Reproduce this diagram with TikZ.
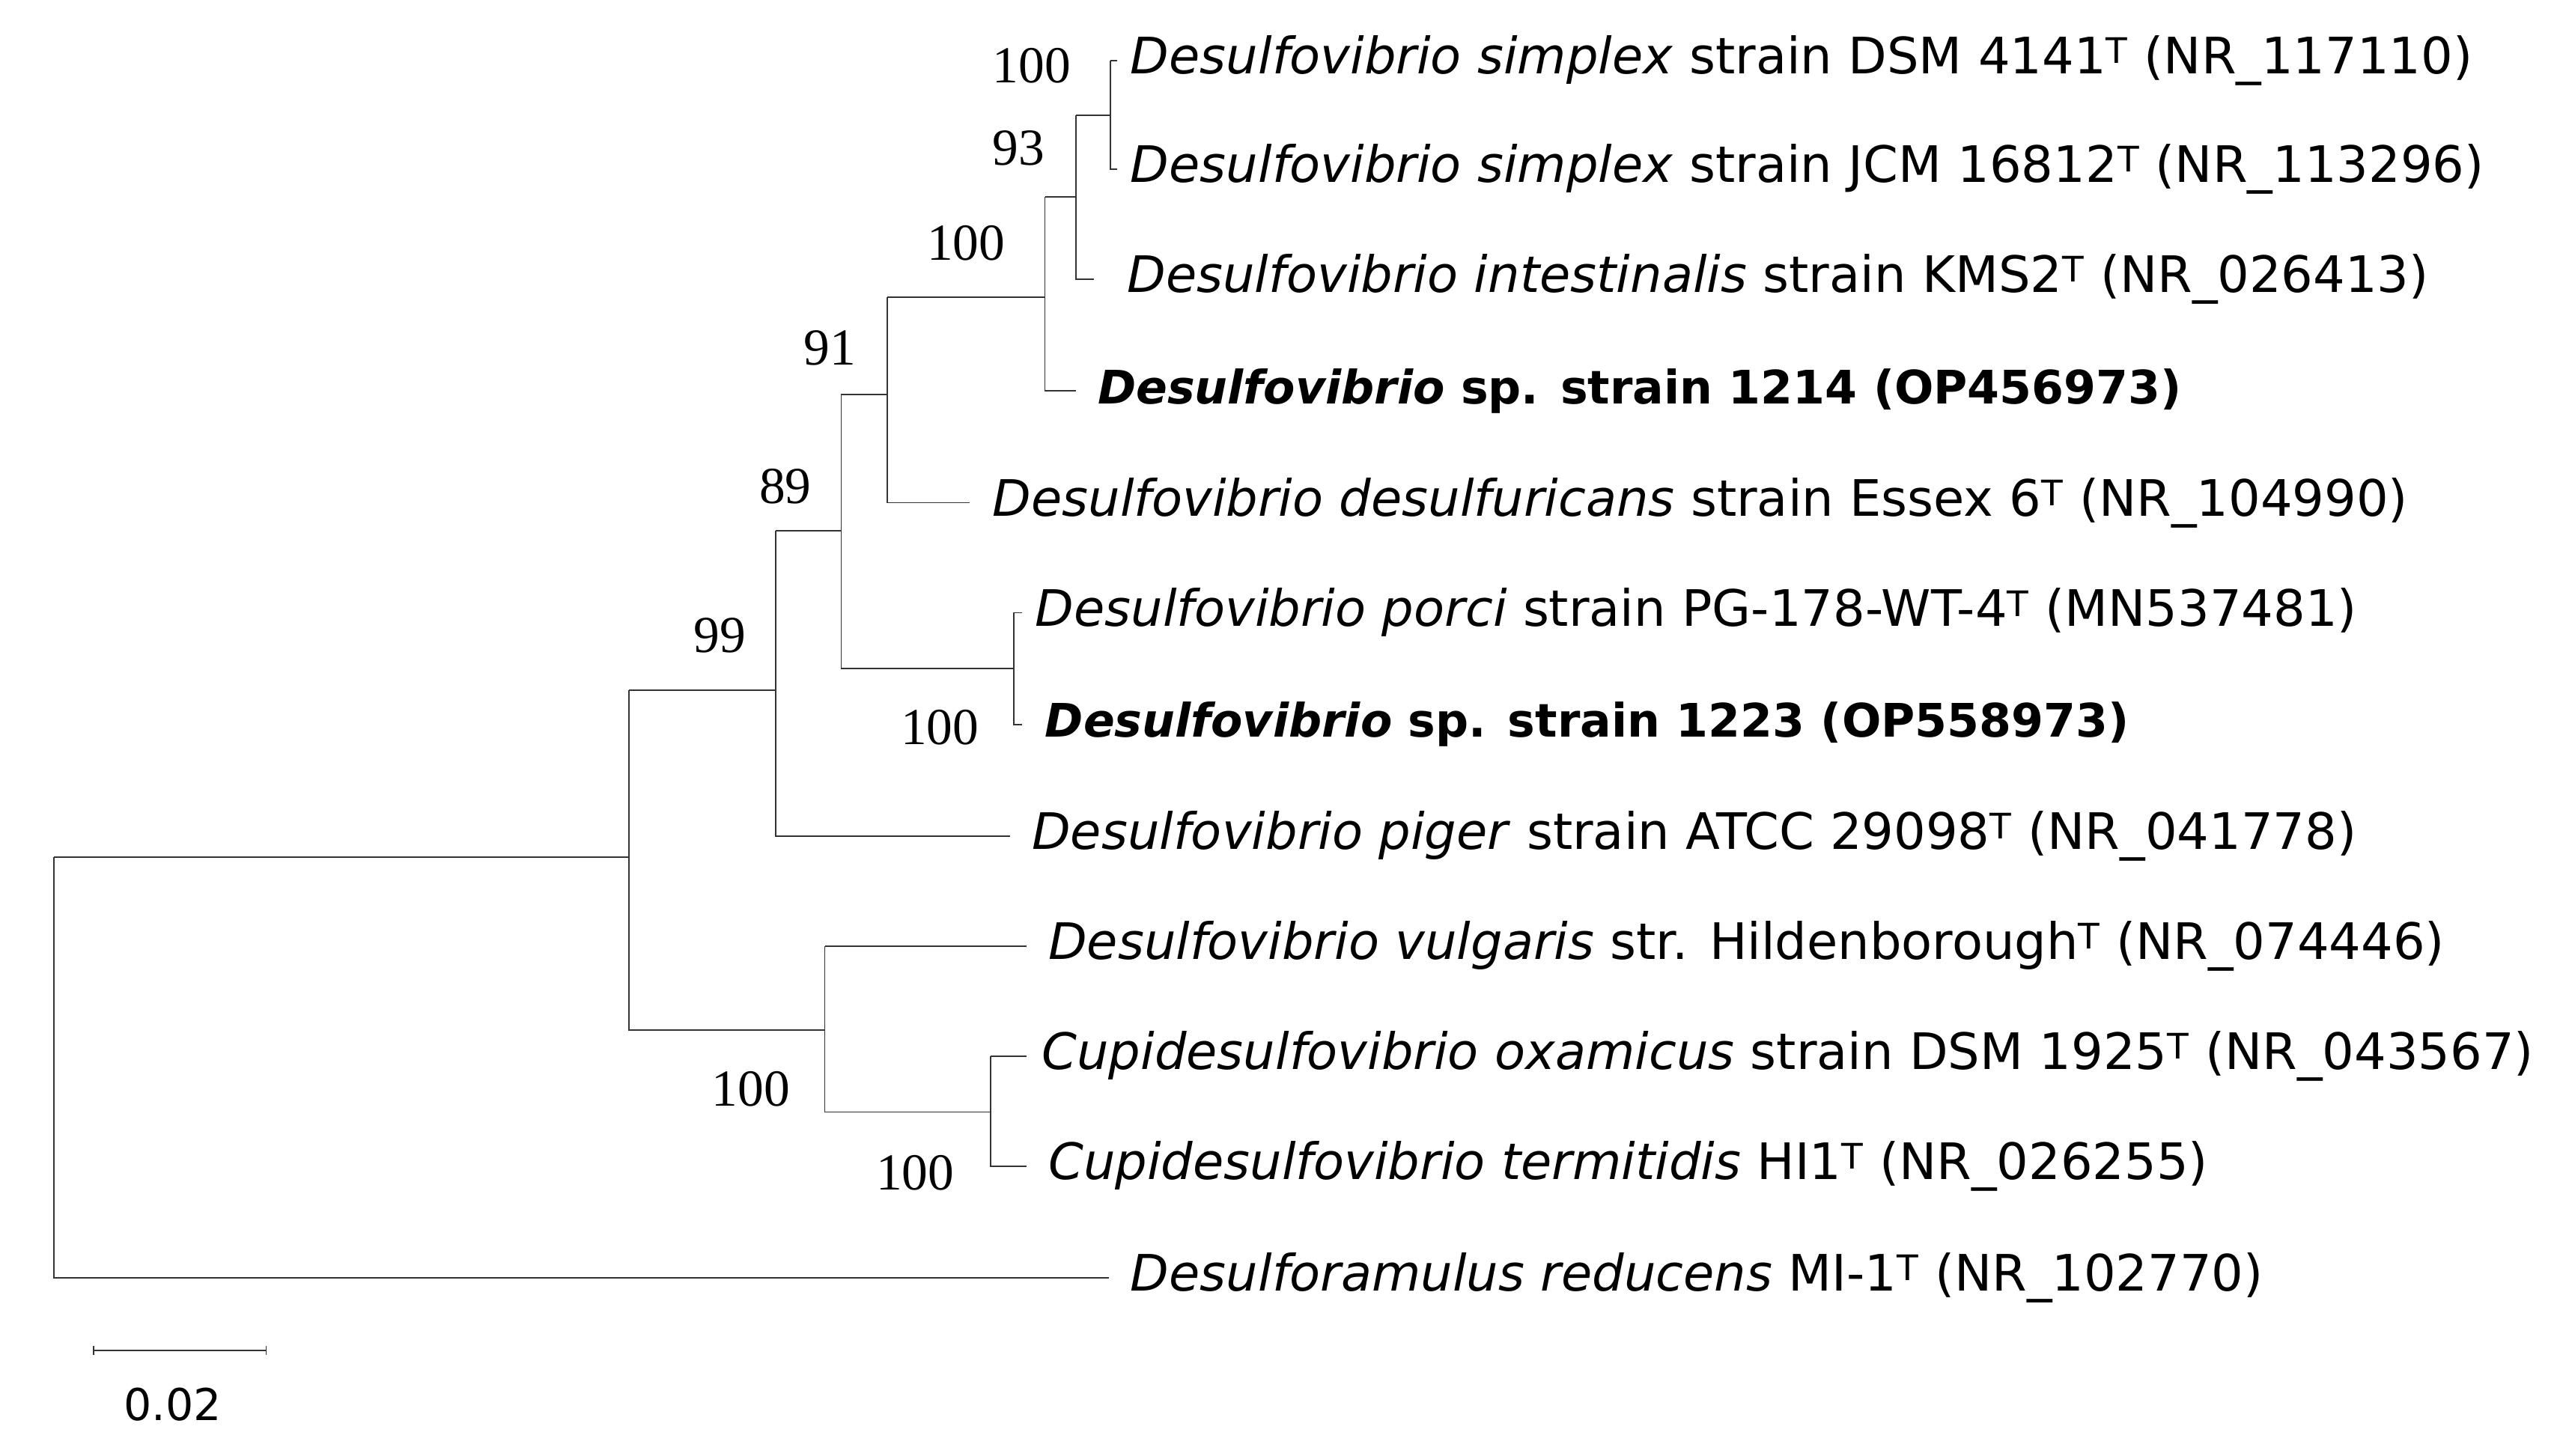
\documentclass[tikz,border=0pt]{standalone}
\usepackage{fontspec}
\setmainfont{DejaVu Sans}
\newfontfamily\bsfont{Liberation Serif}
\begin{document}
\begin{tikzpicture}[x=0.5mm,y=-0.5mm,
  br/.style={line width=1.2pt,black!80},
  lf/.style={anchor=west,inner sep=0pt,font=\fontsize{43.5}{48}\selectfont},
  lfb/.style={anchor=west,inner sep=0pt,font=\fontsize{40}{46}\selectfont\bfseries},
  bs/.style={inner sep=0pt,font=\bsfont\fontsize{45}{50}\selectfont}]
\useasboundingbox (0,0) rectangle (1560,886);
\coordinate (R) at (33,522);
\coordinate (A) at (383,522);
\coordinate (B) at (472,420);
\coordinate (C) at (512,323);
\coordinate (D) at (540,240);
\coordinate (E) at (636,181);
\coordinate (F) at (655,120);
\coordinate (G) at (676,70);
\coordinate (P) at (617,407);
\coordinate (H) at (502,627);
\coordinate (I) at (603,677);
\node[lf] (l1) at (688,37) {\textit{Desulfovibrio simplex} strain DSM 4141\textsuperscript{T} (NR\_117110)};
\node[lf] (l2) at (688,103) {\textit{Desulfovibrio simplex} strain JCM 16812\textsuperscript{T} (NR\_113296)};
\node[lf] (l3) at (686,170) {\textit{Desulfovibrio intestinalis} strain KMS2\textsuperscript{T} (NR\_026413)};
\node[lfb] (l4) at (668,238) {\textit{Desulfovibrio} sp. strain 1214 (OP456973)};
\node[lf] (l5) at (604,306) {\textit{Desulfovibrio desulfuricans} strain Essex 6\textsuperscript{T} (NR\_104990)};
\node[lf] (l6) at (630,373) {\textit{Desulfovibrio porci} strain PG-178-WT-4\textsuperscript{T} (MN537481)};
\node[lfb] (l7) at (636,441) {\textit{Desulfovibrio} sp. strain 1223 (OP558973)};
\node[lf] (l8) at (628,509) {\textit{Desulfovibrio piger} strain ATCC 29098\textsuperscript{T} (NR\_041778)};
\node[lf] (l9) at (638,576) {\textit{Desulfovibrio vulgaris} str. Hildenborough\textsuperscript{T} (NR\_074446)};
\node[lf] (l10) at (634,643) {\textit{Cupidesulfovibrio oxamicus} strain DSM 1925\textsuperscript{T} (NR\_043567)};
\node[lf] (l11) at (638,710) {\textit{Cupidesulfovibrio termitidis} HI1\textsuperscript{T} (NR\_026255)};
\node[lf] (l12) at (688,778) {\textit{Desulforamulus reducens} MI-1\textsuperscript{T} (NR\_102770)};
\coordinate (e1) at (680,37); \coordinate (e2) at (680,103);
\coordinate (e3) at (666,170); \coordinate (e4) at (655,238);
\coordinate (e5) at (590,306); \coordinate (e6) at (622,373);
\coordinate (e7) at (622,441); \coordinate (e8) at (615,509);
\coordinate (e9) at (625,576); \coordinate (e10) at (625,643);
\coordinate (e11) at (625,710); \coordinate (e12) at (675,778);
\draw[br] (R) -- (A);
\draw[br] (R) |- (e12);
\draw[br] (A|-B) -- (B); \draw[br] (A|-B) -- (A|-H) -- (H);
\draw[br] (B|-C) -- (C); \draw[br] (B|-C) -- (B|-e8) -- (e8);
\draw[br] (C|-D) -- (D); \draw[br] (C|-D) -- (C|-P) -- (P);
\draw[br] (D|-E) -- (E); \draw[br] (D|-E) -- (D|-e5) -- (e5);
\draw[br] (E|-F) -- (F); \draw[br] (E|-F) -- (E|-e4) -- (e4);
\draw[br] (F|-G) -- (G); \draw[br] (F|-G) -- (F|-e3) -- (e3);
\draw[br] (G|-e1) -- (e1); \draw[br] (G|-e1) -- (G|-e2) -- (e2);
\draw[br] (P|-e6) -- (e6); \draw[br] (P|-e6) -- (P|-e7) -- (e7);
\draw[br] (H|-e9) -- (e9); \draw[br] (H|-e9) -- (H|-I) -- (I);
\draw[br] (I|-e10) -- (e10); \draw[br] (I|-e10) -- (I|-e11) -- (e11);
\node[bs] (b1) at (628,40) {100};
\node[bs] (b2) at (620,90) {93};
\node[bs] (b3) at (588,148) {100};
\node[bs] (b4) at (505,212) {91};
\node[bs] (b5) at (478,296) {89};
\node[bs] (b6) at (438,387) {99};
\node[bs] (b7) at (572,443) {100};
\node[bs] (b8) at (457,663) {100};
\node[bs] (b9) at (557,714) {100};
\coordinate (s1) at (57,822); \coordinate (s2) at (162,822);
\draw[br] (s1) -- (s2);
\draw[br] ([yshift=4]s1) -- ([yshift=-4]s1);
\draw[br] ([yshift=4]s2) -- ([yshift=-4]s2);
\node[inner sep=0pt,font=\fontsize{38}{42}\selectfont] (sl) at (105,855) {0.02};
\end{tikzpicture}
\end{document}
